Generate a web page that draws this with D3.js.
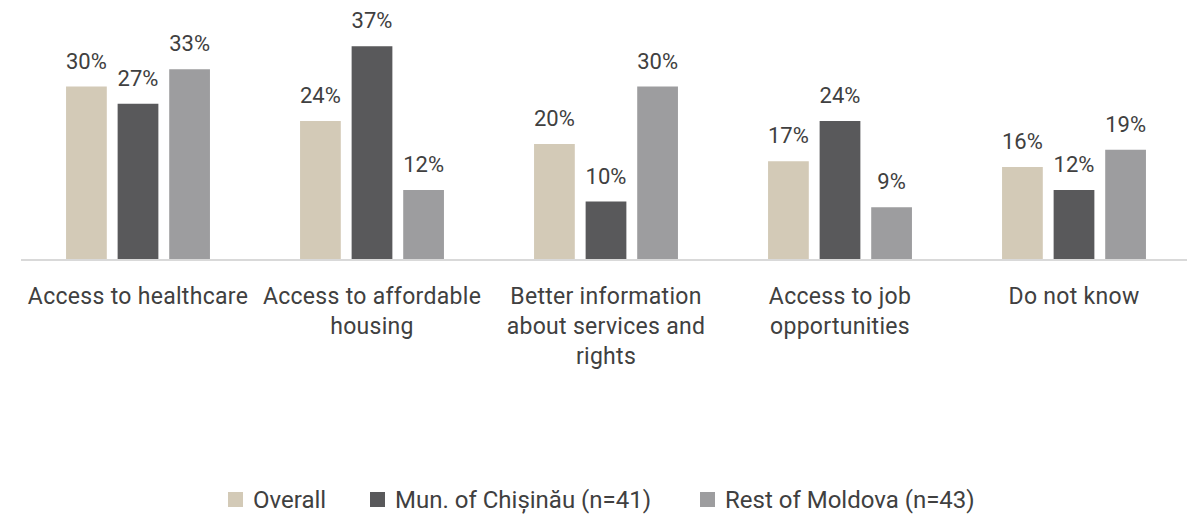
<!DOCTYPE html>
<html>
<head>
<meta charset="utf-8">
<script src="https://cdn.jsdelivr.net/npm/d3@7"></script>
<style>
  body { margin: 0; background: #fff; }
  text { font-family: Roboto, "Liberation Sans", sans-serif; fill: #404040; font-weight: 400; }
</style>
</head>
<body>
<div id="chart"></div>
<script>
// categories and series
var categories = ["Access to healthcare", "Access to affordable housing",
  "Better information about services and rights", "Access to job opportunities", "Do not know"];
var seriesNames = ["Overall", "Mun. of Chișinău (n=41)", "Rest of Moldova (n=43)"];
var overall = [30, 24, 20, 17, 16];
var chisinau = [27, 37, 10, 24, 12];
var restMoldova = [33, 12, 30, 9, 19];
var colors = ["#d3cab7", "#59595b", "#9d9d9f"];

var width = 1191, height = 519;
var baseY = 259;

var svg = d3.select("#chart").append("svg")
    .attr("width", width)
    .attr("height", height);

// set the ranges
var x = d3.scaleBand().domain(categories).range([21, 1191])
    .paddingInner(0.385).paddingOuter(0.1925);
var x1 = d3.scaleBand().domain(seriesNames).range([0, x.bandwidth()]).paddingInner(0.21);
var y = d3.scaleLinear().domain([0, 40]).range([baseY, baseY - 230]);

var data = categories.map(function(c, i) {
  return {cat: c, vals: [overall[i], chisinau[i], restMoldova[i]]};
});

// axis line
svg.append("line")
    .attr("x1", 21).attr("x2", 1187)
    .attr("y1", baseY + 1).attr("y2", baseY + 1)
    .attr("stroke", "#d9d9d9")
    .attr("stroke-width", 2);

var groups = svg.selectAll(".grp")
    .data(data)
  .enter().append("g")
    .attr("class", "grp")
    .attr("transform", function(d) { return "translate(" + x(d.cat) + ",0)"; });

groups.selectAll("rect")
    .data(function(d) { return d.vals.map(function(v, j) { return {s: seriesNames[j], v: v, j: j}; }); })
  .enter().append("rect")
    .attr("x", function(d) { return x1(d.s); })
    .attr("y", function(d) { return y(d.v); })
    .attr("width", x1.bandwidth())
    .attr("height", function(d) { return y(0) - y(d.v); })
    .attr("fill", function(d) { return colors[d.j]; });

groups.selectAll(".val")
    .data(function(d) { return d.vals.map(function(v, j) { return {s: seriesNames[j], v: v}; }); })
  .enter().append("text")
    .attr("class", "val")
    .attr("x", function(d) { return x1(d.s) + x1.bandwidth() / 2; })
    .attr("y", function(d) { return y(d.v) - 18; })
    .attr("text-anchor", "middle")
    .style("font-size", "22px")
    .text(function(d) { return d.v + "%"; });

// category labels, wrapped
var xAxis = svg.append("g")
    .attr("transform", "translate(0," + baseY + ")")
    .call(d3.axisBottom(x).tickSize(0).tickPadding(0));
xAxis.select(".domain").remove();
xAxis.selectAll(".tick text")
    .attr("y", 45)
    .attr("dy", 0)
    .style("font-size", "23px")
    .style("font-family", "Roboto, sans-serif")
    .style("letter-spacing", "0.3px")
    .attr("fill", "#404040")
    .call(wrap, 228);

function wrap(texts, maxW) {
  texts.each(function() {
    var text = d3.select(this),
        words = text.text().split(/\s+/),
        line = [], lineNo = 0,
        ty = text.attr("y");
    var tspan = text.text(null).append("tspan").attr("x", 0).attr("y", ty);
    words.forEach(function(w) {
      line.push(w);
      tspan.text(line.join(" "));
      if (tspan.node().getComputedTextLength() > maxW && line.length > 1) {
        line.pop();
        tspan.text(line.join(" "));
        line = [w];
        lineNo++;
        tspan = text.append("tspan").attr("x", 0).attr("y", +ty + lineNo * 30).text(w);
      }
    });
  });
}

// legend
var legendX = [228, 370, 700];
var legend = svg.selectAll(".leg")
    .data(seriesNames)
  .enter().append("g")
    .attr("class", "leg")
    .attr("transform", function(d, i) { return "translate(" + legendX[i] + ",492)"; });
legend.append("rect")
    .attr("width", 15).attr("height", 15)
    .attr("fill", function(d, i) { return colors[i]; });
legend.append("text")
    .attr("x", 25)
    .attr("y", 16)
    .style("font-size", "24px")
    .text(function(d) { return d; });
</script>
</body>
</html>
